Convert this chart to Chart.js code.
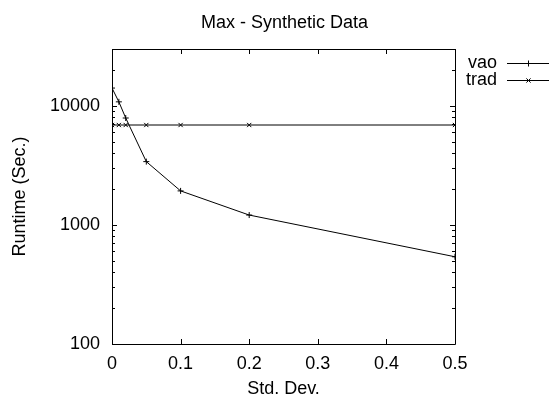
<!DOCTYPE html>
<html>
<head>
<meta charset="utf-8">
<script src="https://cdn.jsdelivr.net/npm/chart.js@4.4.0/dist/chart.umd.min.js"></script>
<style>
  html, body { margin: 0; padding: 0; background: #fff; }
  #wrap { width: 552px; height: 397px; }
</style>
</head>
<body>
<div id="wrap"><canvas id="myChart" width="552" height="397"></canvas></div>
<script>
// data
const stdDev = [0, 0.01, 0.02, 0.05, 0.1, 0.2, 0.5];
const vaoRuntime = [14100, 10800, 7900, 3400, 1930, 1210, 540];
const tradRuntime = [6900, 6900, 6900, 6900, 6900, 6900, 6900];
const xTicks = [0, 0.1, 0.2, 0.3, 0.4, 0.5];
const yTicks = [100, 1000, 10000];

const FONT = "'Liberation Sans', Arial, sans-serif";
const FS = 18;

function toPoints(xs, ys) {
    return xs.map((x, i) => ({ x: x, y: ys[i] }));
}

// gnuplot style frame, inward tics, title and key
const gnuplotBits = {
    id: 'gnuplotBits',
    afterDatasetsDraw(chart) {
        const ctx = chart.ctx;
        const a = chart.chartArea;
        const xs = chart.scales.x, ys = chart.scales.y;
        ctx.save();
        ctx.strokeStyle = '#000';
        ctx.lineWidth = 1;
        ctx.beginPath();
        ctx.rect(Math.round(a.left) + 0.5, Math.round(a.top) + 0.5,
                 Math.round(a.right - a.left), Math.round(a.bottom - a.top));
        ctx.stroke();

        ctx.beginPath();
        xTicks.forEach(v => {
            const px = Math.round(xs.getPixelForValue(v)) + 0.5;
            ctx.moveTo(px, a.bottom); ctx.lineTo(px, a.bottom - 5);
            ctx.moveTo(px, a.top); ctx.lineTo(px, a.top + 5);
        });
        for (let d = 100; d <= 10000; d *= 10) {
            for (let m = 1; m <= 9; m++) {
                const v = d * m;
                if (v > ys.max) break;
                const len = m === 1 ? 5 : 3;
                const py = Math.round(ys.getPixelForValue(v)) + 0.5;
                ctx.moveTo(a.left, py); ctx.lineTo(a.left + len, py);
                ctx.moveTo(a.right, py); ctx.lineTo(a.right - len, py);
            }
        }
        ctx.stroke();
        ctx.restore();
    },
    afterDraw(chart) {
        const ctx = chart.ctx;
        const a = chart.chartArea;
        ctx.save();
        ctx.fillStyle = '#000';
        ctx.font = FS + 'px ' + FONT;
        ctx.textBaseline = 'middle';
        ctx.textAlign = 'center';
        ctx.fillText('Max - Synthetic Data', (a.left + a.right) / 2 + 1, 23);

        // key
        const keyY = [63, 80];
        chart.data.datasets.forEach((ds, i) => {
            const y = keyY[i];
            ctx.textAlign = 'right';
            ctx.fillText(ds.label, 497, y);
            ctx.strokeStyle = '#000';
            ctx.lineWidth = 1;
            ctx.beginPath();
            ctx.moveTo(507, y + 0.5); ctx.lineTo(549, y + 0.5);
            ctx.stroke();
            Chart.helpers.drawPoint(ctx, {
                pointStyle: ds.pointStyle, radius: ds.pointRadius,
                borderWidth: 1, rotation: 0
            }, 528.5, y + 0.5);
        });
        ctx.restore();
    }
};

const ctx = document.getElementById('myChart');
const myChart = new Chart(ctx, {
    type: 'line',
    data: {
        datasets: [{
            label: 'vao',
            data: toPoints(stdDev, vaoRuntime),
            borderColor: '#000',
            backgroundColor: '#000',
            borderWidth: 1,
            pointStyle: 'cross',
            pointRadius: 3,
            pointBorderWidth: 1,
            tension: 0,
            fill: false
        }, {
            label: 'trad',
            data: toPoints(stdDev, tradRuntime),
            borderColor: '#000',
            backgroundColor: '#000',
            borderWidth: 1,
            pointStyle: 'crossRot',
            pointRadius: 3,
            pointBorderWidth: 1,
            tension: 0,
            fill: false
        }]
    },
    options: {
        responsive: false,
        animation: false,
        devicePixelRatio: 1,
        layout: { padding: { top: 49, right: 97, left: 0, bottom: 0 } },
        plugins: {
            legend: { display: false },
            title: { display: false },
            tooltip: { enabled: false }
        },
        scales: {
            x: {
                type: 'linear',
                min: 0,
                max: 0.5,
                afterBuildTicks: (scale) => { scale.ticks = xTicks.map(v => ({ value: v })); },
                afterFit: (scale) => { scale.height = 53; },
                grid: { display: false, drawTicks: false },
                border: { display: false },
                ticks: {
                    color: '#000',
                    padding: 9,
                    font: { family: FONT, size: FS },
                    maxRotation: 0,
                    callback: (v) => String(Math.round(v * 10) / 10)
                },
                title: {
                    display: true,
                    text: 'Std. Dev.',
                    color: '#000',
                    padding: { top: 0, bottom: -3 },
                    font: { family: FONT, size: FS }
                }
            },
            y: {
                type: 'logarithmic',
                min: 100,
                max: 30000,
                afterBuildTicks: (scale) => { scale.ticks = yTicks.map(v => ({ value: v })); },
                afterFit: (scale) => { scale.width = 112; },
                grid: { display: false, drawTicks: false },
                border: { display: false },
                ticks: {
                    color: '#000',
                    padding: 12,
                    font: { family: FONT, size: FS },
                    callback: (v) => String(v)
                },
                title: {
                    display: true,
                    text: 'Runtime (Sec.)',
                    color: '#000',
                    padding: { top: 9, bottom: 0 },
                    font: { family: FONT, size: FS }
                }
            }
        }
    },
    plugins: [gnuplotBits]
});
</script>
</body>
</html>
